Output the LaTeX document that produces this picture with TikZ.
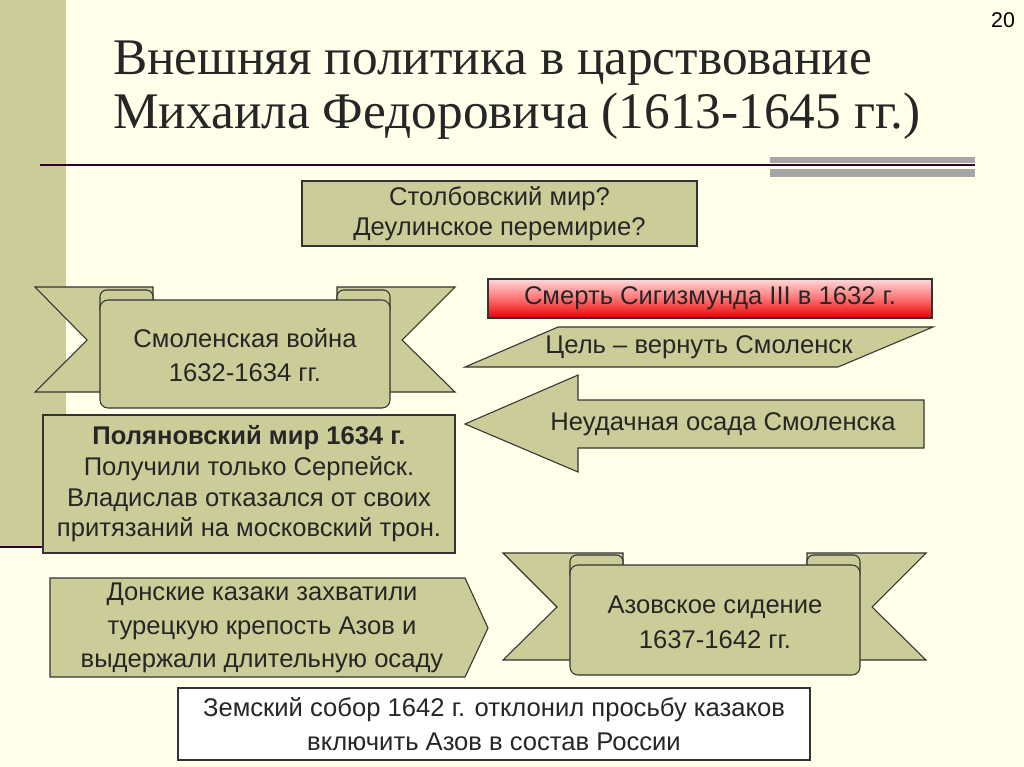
\documentclass[tikz,border=0pt]{standalone}
\usepackage{fontspec}
\setmainfont{Liberation Sans}
\newfontfamily\titlefont{Liberation Serif}
\definecolor{bg}{HTML}{FFFFEA}
\definecolor{olive}{HTML}{CCCC99}
\definecolor{plum}{HTML}{330033}
\definecolor{redd}{HTML}{E80000}
\begin{document}
\begin{tikzpicture}[x=0.75pt,y=-0.75pt,
  shp/.style={draw=black!80,fill=olive,line width=0.8pt},
  txt/.style={font=\fontsize{19.2}{23}\selectfont,align=center,text=black!85}]
\useasboundingbox (0,0) rectangle (1024,767);
\fill[bg] (0,0) rectangle (1024,767);
\fill[olive] (0,0) rectangle (66,547);
\draw[plum,line width=2.2pt] (40,165) -- (975,165);
\draw[plum,line width=2.2pt] (0,547) -- (45,547);
\fill[gray!70] (770,157) rectangle (975,163);
\fill[gray!70] (770,169) rectangle (975,177);
\node[font=\fontsize{16}{18}\selectfont] (pg) at (1003,20) {20};
\node[font=\titlefont\fontsize{38.5}{40}\selectfont,anchor=north west,align=left,text=black!85,inner sep=0pt] (title) at (113,41) {Внешняя политика в царствование\\Михаила Федоровича (1613-1645 гг.)};
% box 1
\draw[shp] (302,181) rectangle (697,246);
\node[txt] (q) at (499.5,213.5) {Столбовский мир?\\Деулинское перемирие?};
% red box
\draw[draw=black!80,line width=0.8pt,top color=red!15!white,bottom color=redd,middle color=red!55!white] (488,279) rectangle (932,318);
\node[txt] (death) at (710,298.5) {Смерть Сигизмунда III в 1632 г.};
% parallelogram
\draw[shp] (465,367) -- (558,327) -- (933,327) -- (838,367) -- cycle;
\node[txt] (goal) at (699,347) {Цель – вернуть Смоленск};
% left arrow
\draw[shp] (465,424) -- (578,375) -- (578,400) -- (924,400) -- (924,448) -- (578,448) -- (578,472) -- cycle;
\node[txt] (siege) at (723,424) {Неудачная осада Смоленска};
% banner 1
\draw[shp] (35,287) -- (153,287) -- (153,392) -- (35,392) -- (87,340) -- cycle;
\draw[shp] (455,287) -- (337,287) -- (337,392) -- (455,392) -- (402,340) -- cycle;
\draw[shp,rounded corners=5] (100,310) -- (100,290) -- (153,290) -- (153,310);
\draw[shp,rounded corners=5] (337,310) -- (337,290) -- (390,290) -- (390,310);
\draw[shp,rounded corners=6] (100,300) rectangle (390,408);
\node[txt] (war) at (245,355) {Смоленская война\\[3pt]1632-1634 гг.};
% Polyanovsky
\draw[shp] (43,415) rectangle (455,553);
\node[txt] (peace) at (249,484) {\textbf{Поляновский мир 1634 г.}\\Получили только Серпейск.\\Владислав отказался от своих\\притязаний на московский трон.};
% Don cossacks pentagon
\draw[shp] (50,578) -- (465,578) -- (488,628) -- (465,677) -- (50,677) -- cycle;
\node[txt] (don) at (262,628) {Донские казаки захватили\\[2pt]турецкую крепость Азов и\\[2pt]выдержали длительную осаду};
% banner 2
\draw[shp] (503,553) -- (623,553) -- (623,660) -- (503,660) -- (557,607) -- cycle;
\draw[shp] (926,553) -- (807,553) -- (807,660) -- (926,660) -- (872,607) -- cycle;
\draw[shp,rounded corners=5] (570,575) -- (570,555) -- (623,555) -- (623,575);
\draw[shp,rounded corners=5] (807,575) -- (807,555) -- (860,555) -- (860,575);
\draw[shp,rounded corners=6] (570,565) rectangle (860,675);
\node[txt] (azov) at (715,622) {Азовское сидение\\[3pt]1637-1642 гг.};
% bottom box
\draw[draw=black!80,fill=white,line width=0.8pt] (178,688) rectangle (810,760);
\node[txt] (sobor) at (494,724) {Земский собор 1642 г. отклонил просьбу казаков\\[2pt]включить Азов в состав России};
\end{tikzpicture}
\end{document}
